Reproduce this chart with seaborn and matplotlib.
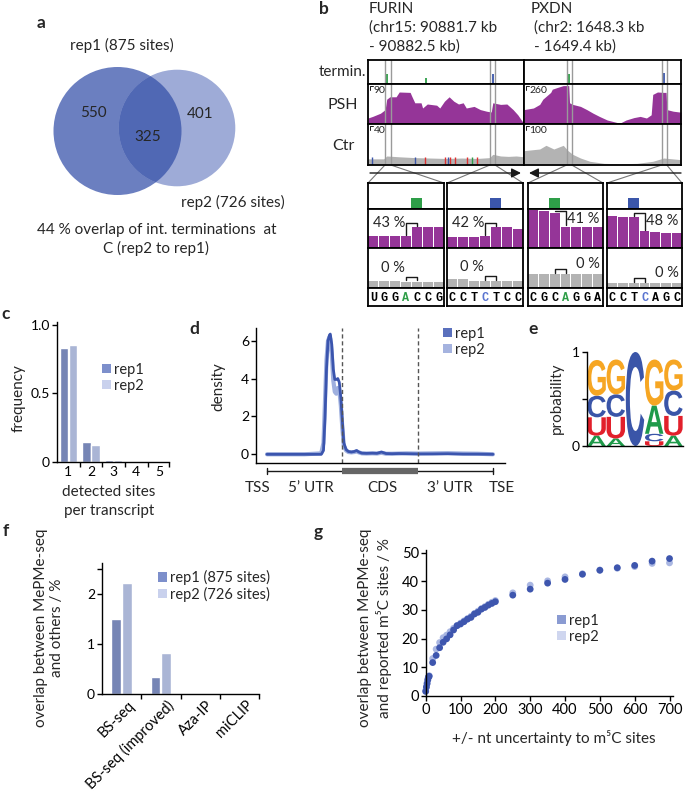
import numpy as np
import pandas as pd
import matplotlib
matplotlib.use("Agg")
import matplotlib.pyplot as plt
import matplotlib.transforms as mtransforms
from matplotlib.patches import Circle, Patch, PathPatch
from matplotlib.textpath import TextPath
from matplotlib.font_manager import FontProperties
import seaborn as sns

# ---------------- data ----------------
# a: Venn
venn_rep1_total = 875
venn_rep2_total = 726
venn_rep1_only = 550
venn_rep2_only = 401
venn_both = 325

# b: browser tracks (relative position in window, coverage as fraction of track max)
furin_psh_pos = [0.00, 0.03, 0.08, 0.11, 0.12, 0.14, 0.18, 0.20, 0.27, 0.28, 0.30, 0.34, 0.35, 0.38, 0.44, 0.46,
                 0.49, 0.52, 0.55, 0.58, 0.61, 0.63, 0.68, 0.72, 0.76, 0.79, 0.80, 0.85, 0.89, 0.93, 0.96, 0.99, 1.00]
furin_psh_val = [0.15, 0.19, 0.27, 0.36, 0.62, 0.68, 0.68, 0.80, 0.79, 0.70, 0.53, 0.53, 0.40, 0.50, 0.47, 0.40,
                 0.57, 0.68, 0.57, 0.50, 0.53, 0.40, 0.44, 0.36, 0.32, 0.30, 0.53, 0.49, 0.50, 0.36, 0.23, 0.06, 0.06]
pxdn_psh_pos = [0.00, 0.06, 0.10, 0.12, 0.17, 0.18, 0.21, 0.25, 0.285, 0.29, 0.31, 0.36, 0.40, 0.44, 0.48, 0.53,
                0.57, 0.61, 0.65, 0.70, 0.74, 0.78, 0.81, 0.82, 0.85, 0.89, 0.905, 0.91, 0.95, 0.99, 1.00]
pxdn_psh_val = [0.36, 0.40, 0.49, 0.62, 0.79, 0.87, 0.91, 0.96, 0.96, 0.53, 0.49, 0.44, 0.36, 0.27, 0.19, 0.10,
                0.06, 0.02, 0.10, 0.16, 0.19, 0.15, 0.23, 0.74, 0.80, 0.79, 0.79, 0.36, 0.32, 0.30, 0.30]
furin_ctr_pos = [0.00, 0.10, 0.12, 0.20, 0.30, 0.40, 0.50, 0.60, 0.70, 0.78, 0.80, 0.85, 0.90, 0.95, 1.00]
furin_ctr_val = [0.15, 0.15, 0.22, 0.20, 0.18, 0.17, 0.16, 0.17, 0.16, 0.18, 0.26, 0.22, 0.21, 0.22, 0.20]
pxdn_ctr_pos = [0.00, 0.10, 0.14, 0.19, 0.25, 0.28, 0.31, 0.36, 0.42, 0.51, 0.61, 0.72, 0.82, 0.89, 1.00]
pxdn_ctr_val = [0.35, 0.39, 0.48, 0.39, 0.48, 0.35, 0.26, 0.17, 0.09, 0.04, 0.03, 0.04, 0.09, 0.17, 0.13]
furin_term_pos = [0.124, 0.372, 0.803]
furin_term_h = [0.40, 0.25, 0.40]
furin_term_base = ["A", "A", "C"]
pxdn_term_pos = [0.287, 0.890]
pxdn_term_h = [0.40, 0.45]
pxdn_term_base = ["A", "C"]
furin_mm_pos = [0.026, 0.30, 0.365, 0.494, 0.513, 0.526, 0.558, 0.635, 0.667, 0.699]
furin_mm_base = ["C", "C", "T", "T", "C", "T", "T", "T", "A", "T"]
furin_hl = [(0.109, 0.146), (0.782, 0.814)]
pxdn_hl = [(0.272, 0.304), (0.877, 0.909)]
track_scale = {"FURIN": (90, 40), "PXDN": (260, 100)}

zoom_seqs = ["UGGACCG", "CCTCTCC", "CGCAGGA", "CCTCAGC"]
zoom_mod_idx = [3, 3, 3, 3]
zoom_term_cell = [4, 4, 2, 2]
zoom_term_base = ["A", "C", "A", "C"]
zoom_psh = [[0.30, 0.30, 0.30, 0.30, 0.53, 0.53, 0.54],
            [0.28, 0.28, 0.28, 0.30, 0.53, 0.53, 0.49],
            [0.97, 0.94, 0.91, 0.55, 0.54, 0.54, 0.54],
            [0.81, 0.79, 0.79, 0.43, 0.40, 0.39, 0.39]]
zoom_ctr = [[0.18, 0.18, 0.18, 0.16, 0.16, 0.16, 0.16],
            [0.22, 0.22, 0.18, 0.18, 0.17, 0.17, 0.17],
            [0.35, 0.35, 0.35, 0.35, 0.35, 0.35, 0.35],
            [0.125, 0.125, 0.125, 0.125, 0.125, 0.125, 0.125]]
zoom_bracket_cell = [3, 3, 2, 2]
zoom_psh_pct = ["43 %", "42 %", "41 %", "48 %"]
zoom_ctr_pct = ["0 %", "0 %", "0 %", "0 %"]

# c
c_sites = ["1", "2", "3", "4", "5"]
c_rep1 = [0.83, 0.145, 0.015, 0.0, 0.0]
c_rep2 = [0.85, 0.125, 0.012, 0.0, 0.0]

# d
d_x = [0.0, 0.5, 0.72, 0.75, 0.77, 0.79, 0.81, 0.83, 0.84, 0.86, 0.88, 0.90, 0.92, 0.94, 0.96, 0.98, 1.00,
       1.02, 1.05, 1.08, 1.12, 1.16, 1.19, 1.22, 1.26, 1.32, 1.40, 1.46, 1.52, 1.58, 1.66, 1.75, 1.85, 2.0,
       2.2, 2.4, 2.6, 2.8, 3.0]
d_rep1 = [0.0, 0.0, 0.0, 0.2, 1.9, 4.5, 6.0, 6.3, 6.35, 5.8, 4.5, 3.95, 3.95, 4.0, 3.8, 3.0, 1.8,
          0.6, 0.25, 0.15, 0.12, 0.15, 0.2, 0.12, 0.06, 0.05, 0.06, 0.05, 0.12, 0.04, 0.03, 0.04, 0.03, 0.02,
          0.02, 0.03, 0.01, 0.01, 0.0]
d_rep2 = [0.0, 0.0, 0.05, 0.6, 2.8, 5.0, 6.0, 6.2, 6.1, 5.3, 3.9, 3.3, 3.2, 3.5, 3.4, 2.6, 1.4,
          0.45, 0.2, 0.12, 0.1, 0.12, 0.15, 0.1, 0.05, 0.04, 0.05, 0.04, 0.08, 0.03, 0.03, 0.04, 0.05, 0.04,
          0.05, 0.06, 0.04, 0.03, 0.0]
d_region_labels = ["TSS", "5\u2019 UTR", "CDS", "3\u2019 UTR", "TSE"]
d_region_label_x = [-0.13, 0.58, 1.53, 2.43, 3.12]

# e: probability logo
logo_pos = [1, 2, 3, 4, 5]
logo_A = [0.11, 0.08, 0.00, 0.30, 0.11]
logo_C = [0.23, 0.24, 1.00, 0.08, 0.27]
logo_G = [0.38, 0.37, 0.00, 0.49, 0.33]
logo_U = [0.195, 0.23, 0.00, 0.05, 0.21]

# f
f_methods = ["BS-seq", "BS-seq (improved)", "Aza-IP", "miCLIP"]
f_rep1 = [1.50, 0.35, 0.0, 0.0]
f_rep2 = [2.22, 0.83, 0.0, 0.0]

# g
g_x = [0, 2, 4, 6, 8, 10, 20, 30, 40, 50, 60, 70, 80, 90, 100, 110, 120, 130, 140, 150, 160, 170, 180, 190,
       200, 250, 300, 350, 400, 450, 500, 550, 600, 650, 700]
g_rep1 = [1.5, 3.0, 4.2, 5.5, 6.5, 6.8, 11.6, 14.1, 16.8, 18.7, 19.9, 21.3, 23.0, 24.5, 25.1, 25.9, 26.8, 27.4,
          28.6, 29.2, 30.3, 30.9, 31.7, 32.3, 32.9, 35.2, 37.3, 39.4, 40.7, 42.5, 43.9, 44.8, 45.6, 47.1, 48.0]
g_rep2 = [1.8, 3.2, 4.6, 5.9, 6.6, 7.0, 13.0, 16.3, 18.6, 20.3, 21.2, 22.4, 23.6, 24.6, 25.4, 26.2, 27.0, 27.8,
          28.8, 29.6, 30.5, 31.2, 32.0, 32.7, 33.3, 36.0, 38.7, 40.2, 41.6, 42.7, 44.0, 44.6, 45.2, 46.3, 46.5]

# ---------------- style ----------------
sns.set_theme(style="ticks")
plt.rcParams["font.family"] = ["Lato", "DejaVu Sans"]
plt.rcParams.update({
    "font.size": 10, "axes.linewidth": 1.0, "axes.edgecolor": "black",
    "xtick.color": "black", "ytick.color": "black",
    "xtick.major.size": 3.5, "ytick.major.size": 3.5,
    "xtick.major.width": 1.0, "ytick.major.width": 1.0,
    "xtick.labelsize": 10, "ytick.labelsize": 10,
    "xtick.major.pad": 1.5, "ytick.major.pad": 1.5,
})

C_REP1 = "#6b7fc0"
C_REP2 = "#a3b1dc"
C_LEG1 = "#7d8fcb"
C_LEG2 = "#c9d1ed"
PURPLE = "#953598"
GREY = "#b3b3b3"
GREEN = "#2e9e48"
BLUE = "#3b56aa"
BASE_COL = {"A": GREEN, "C": BLUE, "T": "#e03030", "G": "#e09020"}

W, H = 685, 796
fig = plt.figure(figsize=(W / 100, H / 100), dpi=100)


def add_ax(l, t, w, h, **kw):
    return fig.add_axes([l / W, 1 - (t + h) / H, w / W, h / H], **kw)


def ftext(x, y, s, **kw):
    kw.setdefault("ha", "center")
    kw.setdefault("va", "center")
    return fig.text(x / W, 1 - y / H, s, **kw)


def sq_legend(ax, labels, colors, x, y):
    handles = [Patch(facecolor=c, edgecolor="none", label=l) for l, c in zip(labels, colors)]
    ax.legend(handles=handles, loc="upper left", bbox_to_anchor=(x / W, 1 - y / H),
              bbox_transform=fig.transFigure, frameon=False, handlelength=0.6, handleheight=0.6,
              handletextpad=0.25, labelspacing=0.12, borderpad=0, borderaxespad=0, fontsize=10.5)


# canvas for decorations
canvas = add_ax(0, 0, W, H)
canvas.set_xlim(0, W)
canvas.set_ylim(H, 0)
canvas.axis("off")

# panel letters
for lab, (x, y) in {"a": (41, 23), "b": (324, 9), "c": (6, 314), "d": (194, 329),
                    "e": (533, 329), "f": (6, 531), "g": (318, 532)}.items():
    ftext(x, y, lab, fontsize=12.5, fontweight="bold")

# ---------------- a ----------------
ax_a = add_ax(0, 0, 320, 300)
ax_a.set_xlim(0, 320)
ax_a.set_ylim(300, 0)
ax_a.axis("off")
r1 = 64.0
r2 = r1 * np.sqrt(venn_rep2_total / venn_rep1_total)
c1 = Circle((117.5, 131), r1, facecolor=C_REP1, edgecolor="none")
c2 = Circle((177, 128), r2, facecolor="#9eabd7", edgecolor="none")
ax_a.add_patch(c1)
ax_a.add_patch(c2)
c3 = Circle((177, 128), r2, facecolor="#5068b4", edgecolor="none")
ax_a.add_patch(c3)
c3.set_clip_path(c1)
ax_a.text(93.5, 113, str(venn_rep1_only), ha="center", va="center", fontsize=11)
ax_a.text(200.5, 114, str(venn_rep2_only), ha="center", va="center", fontsize=11)
ax_a.text(147.5, 137, str(venn_both), ha="center", va="center", fontsize=11)
ax_a.text(122, 45, f"rep1 ({venn_rep1_total} sites)", ha="center", va="center", fontsize=11)
ax_a.text(233, 202, f"rep2 ({venn_rep2_total} sites)", ha="center", va="center", fontsize=11)
ax_a.text(157, 230, "44 % overlap of int. terminations  at", ha="center", va="center", fontsize=11)
ax_a.text(156, 248, "C (rep2 to rep1)", ha="center", va="center", fontsize=11)

# ---------------- b ----------------
ftext(369, 9, "FURIN", ha="left", fontsize=11)
ftext(369, 28, "(chr15: 90881.7 kb", ha="left", fontsize=11)
ftext(369, 47, "- 90882.5 kb)", ha="left", fontsize=11)
ftext(531, 9, "PXDN", ha="left", fontsize=11)
ftext(534, 28, "(chr2: 1648.3 kb", ha="left", fontsize=11)
ftext(534, 47, "- 1649.4 kb)", ha="left", fontsize=11)
ftext(366, 72, "termin.", ha="right", fontsize=11)
ftext(343, 105, "PSH", fontsize=11.5)
ftext(343, 146, "Ctr", fontsize=11.5)

genes = {
    "FURIN": dict(left=368, width=156, psh=(furin_psh_pos, furin_psh_val), ctr=(furin_ctr_pos, furin_ctr_val),
                  term=(furin_term_pos, furin_term_h, furin_term_base), hl=furin_hl),
    "PXDN": dict(left=524, width=157, psh=(pxdn_psh_pos, pxdn_psh_val), ctr=(pxdn_ctr_pos, pxdn_ctr_val),
                 term=(pxdn_term_pos, pxdn_term_h, pxdn_term_base), hl=pxdn_hl),
}
rows = {"term": (60, 24), "psh": (84, 40), "ctr": (124, 41)}
for gname, g in genes.items():
    for rname, (top, hgt) in rows.items():
        ax = add_ax(g["left"], top, g["width"], hgt)
        ax.set_xlim(0, 1)
        ax.set_ylim(0, 1)
        ax.set_xticks([])
        ax.set_yticks([])
        for sp in ax.spines.values():
            sp.set_linewidth(1.3)
        if rname == "term":
            pos, hh, bb = g["term"]
            ax.vlines(pos, 0, hh, colors=[BASE_COL[b] for b in bb], lw=1.3)
        elif rname == "psh":
            ax.fill_between(g["psh"][0], g["psh"][1], color=PURPLE, lw=0)
        else:
            ax.fill_between(g["ctr"][0], g["ctr"][1], color=GREY, lw=0)
            if gname == "FURIN":
                ax.vlines(furin_mm_pos, 0, 0.2, colors=[BASE_COL[b] for b in furin_mm_base], lw=1.0)
        if rname in ("psh", "ctr"):
            sc = track_scale[gname][0 if rname == "psh" else 1]
            ax.plot([0.012, 0.012, 0.03], [0.86, 0.95, 0.95], color="k", lw=0.7)
            ax.text(0.035, 0.96, str(sc), ha="left", va="top", fontsize=7.5)
        for a_, b_ in g["hl"]:
            ax.axvline(a_, color="#9a9a9a", lw=1.0)
            ax.axvline(b_, color="#9a9a9a", lw=1.0)

# strand arrows
canvas.annotate("", xy=(521, 173), xytext=(370, 173),
                arrowprops=dict(arrowstyle="-|>", lw=1.0, color="k", mutation_scale=14, shrinkA=0, shrinkB=0))
canvas.annotate("", xy=(529, 173), xytext=(681, 173),
                arrowprops=dict(arrowstyle="-|>", lw=1.0, color="k", mutation_scale=14, shrinkA=0, shrinkB=0))

# zoom boxes
box_x = [(368, 76), (447, 76), (528, 75), (607, 75)]
hl_all = [("FURIN", 0), ("FURIN", 1), ("PXDN", 0), ("PXDN", 1)]
for i, ((bl, bw), (gname, hi)) in enumerate(zip(box_x, hl_all)):
    g = genes[gname]
    xa = g["left"] + g["hl"][hi][0] * g["width"]
    xb = g["left"] + g["hl"][hi][1] * g["width"]
    canvas.plot([xa, bl], [165, 183], color="#777777", lw=0.8)
    canvas.plot([xb, bl + bw], [165, 183], color="#777777", lw=0.8)

    cells = np.arange(7) + 0.5
    # termination row
    ax = add_ax(bl, 183, bw, 26)
    ax.set_xlim(0, 7); ax.set_ylim(0, 1)
    ax.bar(zoom_term_cell[i] + 0.5, 0.43, width=1.0, color=BASE_COL[zoom_term_base[i]], lw=0)
    # PSH row
    ax_p = add_ax(bl, 209, bw, 39)
    ax_p.set_xlim(0, 7); ax_p.set_ylim(0, 1)
    ax_p.bar(cells, zoom_psh[i], width=0.93, color=PURPLE, lw=0)
    # Ctr row
    ax_c2 = add_ax(bl, 248, bw, 40)
    ax_c2.set_xlim(0, 7); ax_c2.set_ylim(0, 1)
    ax_c2.bar(cells, zoom_ctr[i], width=0.93, color=GREY, lw=0)
    # sequence row
    ax_s = add_ax(bl, 288, bw, 18)
    ax_s.set_xlim(0, 7); ax_s.set_ylim(0, 1)
    for k, ch in enumerate(zoom_seqs[i]):
        col = BASE_COL[zoom_term_base[i]] if k == zoom_mod_idx[i] else "black"
        if col == BLUE:
            col = "#5a74d0"
        ax_s.text(k + 0.5, 0.45, ch, ha="center", va="center", color=col, fontsize=8.5,
                  family="Liberation Mono", fontweight="bold")
    for ax_ in (ax, ax_p, ax_c2, ax_s):
        ax_.set_xticks([]); ax_.set_yticks([])
        for sp in ax_.spines.values():
            sp.set_linewidth(1.3)
    # brackets
    bc = zoom_bracket_cell[i]
    for axb, vals, pct, is_psh in ((ax_p, zoom_psh[i], zoom_psh_pct[i], True),
                                   (ax_c2, zoom_ctr[i], zoom_ctr_pct[i], False)):
        x1, x2 = bc + 0.5, bc + 1.5
        yl, yr = vals[bc] + 0.03, vals[bc + 1] + 0.03
        ytop = min(max(vals[bc], vals[bc + 1]) + 0.12, 0.96)
        axb.plot([x1, x1, x2, x2], [yl, ytop, ytop, yr], color="k", lw=1.0)
        if is_psh:
            if i < 2:
                axb.text(x1 - 0.1, ytop - 0.02, pct, ha="right", va="center", fontsize=10.5)
            else:
                axb.text(x2 + 0.15, ytop - 0.22, pct, ha="left", va="center", fontsize=10.5)
        else:
            if i < 2:
                axb.text(x1 - 1.2, ytop + 0.22, pct, ha="center", va="center", fontsize=10.5)
            else:
                axb.text(x2 + 1.0, ytop + 0.14, pct, ha="left", va="center", fontsize=10.5)

# ---------------- c ----------------
ax_cc = add_ax(57, 322, 112, 140)
df_c = pd.DataFrame({"sites": c_sites * 2, "freq": c_rep1 + c_rep2,
                     "rep": ["rep1"] * len(c_sites) + ["rep2"] * len(c_sites)})
sns.barplot(data=df_c, x="sites", y="freq", hue="rep", palette=[C_REP1, C_REP2], ax=ax_cc,
            width=0.8, gap=0.08, legend=False, errorbar=None)
ax_cc.set_xlim(-0.5, 4.45)
ax_cc.set_ylim(0, 1.02)
ax_cc.set_yticks([0, 0.5, 1.0])
ax_cc.set_yticklabels(["0", "0.5", "1.0"])
ax_cc.tick_params(axis="x", length=0, pad=3)
ax_cc.set_xticks([0.5, 1.5, 2.5, 3.5, 4.45], minor=True)
ax_cc.tick_params(axis="x", which="minor", length=3.5, width=1.0)
ax_cc.set_xlabel("")
ax_cc.set_ylabel("")
sns.despine(ax=ax_cc)
ftext(19, 398, "frequency", rotation=90, fontsize=11)
ftext(109, 492, "detected sites", fontsize=11)
ftext(109, 511, "per transcript", fontsize=11)
sq_legend(ax_cc, ["rep1", "rep2"], [C_LEG1, C_LEG2], 102, 363)

# ---------------- d ----------------
ax_d = add_ax(256, 328, 249, 135)
df_d = pd.DataFrame({"x": d_x * 2, "density": d_rep1 + d_rep2,
                     "rep": ["rep1"] * len(d_x) + ["rep2"] * len(d_x)})
sns.lineplot(data=df_d[df_d.rep == "rep2"], x="x", y="density", color="#9fb0df", lw=3.0, ax=ax_d,
             legend=False, sort=False)
sns.lineplot(data=df_d[df_d.rep == "rep1"], x="x", y="density", color="#3b55ae", lw=2.0, ax=ax_d,
             legend=False, sort=False)
ax_d.set_xlim(-0.146, 3.16)
ax_d.set_ylim(-0.46, 6.67)
ax_d.axvline(1, color="#555555", lw=1.0, ls=(0, (3, 2)))
ax_d.axvline(2, color="#555555", lw=1.0, ls=(0, (3, 2)))
ax_d.set_yticks([0, 2, 4, 6])
ax_d.set_xticks([])
ax_d.set_xlabel("")
ax_d.set_ylabel("")
sns.despine(ax=ax_d)
ftext(218, 387, "density", rotation=90, fontsize=11)
sq_legend(ax_d, ["rep1", "rep2"], ["#5a70bd", "#a5b3df"], 443, 327)

ax_d2 = add_ax(256, 463, 249, 35)
ax_d2.set_xlim(-0.146, 3.16)
ax_d2.set_ylim(35, 0)
ax_d2.axis("off")
ax_d2.plot([0, 3], [7.7, 7.7], color="k", lw=1.0)
ax_d2.plot([0, 0], [4.5, 11], color="k", lw=1.0)
ax_d2.plot([3, 3], [4.5, 11], color="k", lw=1.0)
ax_d2.plot([1, 2], [7.7, 7.7], color="#666666", lw=4.5, solid_capstyle="butt")
for lab, xx in zip(d_region_labels, d_region_label_x):
    ax_d2.text(xx, 25.5, lab, ha="center", va="center", fontsize=11)

# ---------------- e ----------------
ax_e = add_ax(587, 352, 96, 94)
ax_e.set_xlim(0.5, 5.5)
ax_e.set_ylim(0, 1.0)
logo_fp = FontProperties(family="Liberation Sans", weight="bold")
logo_col = {"A": "#1e9a4a", "C": "#3a55a8", "G": "#f6a623", "U": "#e2202b"}
logo_vals = {"A": logo_A, "C": logo_C, "G": logo_G, "U": logo_U}
for j, p in enumerate(logo_pos):
    items = sorted([(logo_vals[b][j], b) for b in "ACGU"])
    y0 = 0.0
    for v, b in items:
        if v <= 0:
            continue
        tp = TextPath((0, 0), b, size=1, prop=logo_fp)
        bb = tp.get_extents()
        tr = (mtransforms.Affine2D().translate(-bb.x0, -bb.y0)
              .scale(0.96 / bb.width, v / bb.height).translate(p - 0.48, y0))
        ax_e.add_patch(PathPatch(tr.transform_path(tp), facecolor=logo_col[b], edgecolor="none"))
        y0 += v
ax_e.set_yticks([0, 0.5, 1])
ax_e.set_yticklabels(["0", "", "1"])
ax_e.set_xticks([])
sns.despine(ax=ax_e)
ftext(557, 398, "probability", rotation=90, fontsize=11)

# ---------------- f ----------------
ax_f = add_ax(102, 563, 157, 131)
df_f = pd.DataFrame({"method": f_methods * 2, "overlap": f_rep1 + f_rep2,
                     "rep": ["rep1"] * len(f_methods) + ["rep2"] * len(f_methods)})
sns.barplot(data=df_f, x="method", y="overlap", hue="rep", palette=[C_REP1, C_REP2], ax=ax_f,
            width=0.55, gap=0.1, legend=False, errorbar=None)
ax_f.set_xlim(-0.5, 3.5)
ax_f.set_ylim(0, 2.62)
ax_f.set_yticks([0, 1, 2, 2.5])
ax_f.set_yticklabels(["0", "1", "2", ""])
ax_f.set_xticks(range(4))
ax_f.set_xticklabels(f_methods, rotation=45, ha="right", va="top", rotation_mode="anchor", fontsize=10.5)
ax_f.tick_params(axis="x", length=0, pad=3)
ax_f.set_xticks([0.5, 1.5, 2.5, 3.5], minor=True)
ax_f.tick_params(axis="x", which="minor", length=3.5, width=1.0)
off = mtransforms.ScaledTranslation(6 / 100, 0, fig.dpi_scale_trans)
for lab in ax_f.get_xticklabels():
    lab.set_transform(lab.get_transform() + off)
ax_f.set_xlabel("")
ax_f.set_ylabel("")
sns.despine(ax=ax_f)
ftext(49, 628, "overlap between MePMe-seq\nand others / %", rotation=90, fontsize=11, linespacing=1.25)
sq_legend(ax_f, [f"rep1 ({venn_rep1_total} sites)", f"rep2 ({venn_rep2_total} sites)"],
          [C_LEG1, C_LEG2], 158, 570)

# ---------------- g ----------------
ax_g = add_ax(425.7, 550, 247.3, 145.7)
df_g = pd.DataFrame({"nt": g_x * 2, "overlap": g_rep1 + g_rep2,
                     "rep": ["rep1"] * len(g_x) + ["rep2"] * len(g_x)})
sns.scatterplot(data=df_g[df_g.rep == "rep2"], x="nt", y="overlap", color="#aab7e2", s=24,
                edgecolor="none", ax=ax_g, legend=False, clip_on=False)
sns.scatterplot(data=df_g[df_g.rep == "rep1"], x="nt", y="overlap", color="#3e56ae", s=24,
                edgecolor="none", ax=ax_g, legend=False, clip_on=False)
ax_g.set_xlim(0, 710)
ax_g.set_ylim(0, 51)
ax_g.set_xticks(range(0, 701, 100))
ax_g.set_yticks(range(0, 51, 10))
ax_g.tick_params(labelsize=10.5)
ax_g.set_xlabel("")
ax_g.set_ylabel("")
sns.despine(ax=ax_g)
ftext(375, 628, "overlap between MePMe-seq\nand reported m\u2075C sites / %", rotation=90, fontsize=11,
      linespacing=1.25)
ftext(554, 738, "+/- nt uncertainty to m\u2075C sites", fontsize=11)
sq_legend(ax_g, ["rep1", "rep2"], ["#8a9bd2", "#cfd6ef"], 557, 614)

fig.savefig("out.png", dpi=100)
